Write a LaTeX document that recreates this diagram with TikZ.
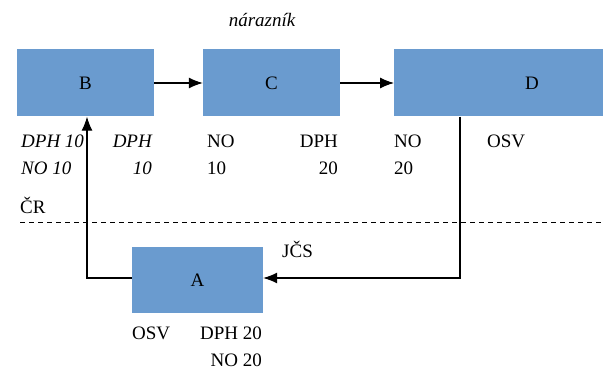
\documentclass[tikz,border=0pt]{standalone}
\usepackage{fontspec}
\setmainfont{Liberation Serif}
\usetikzlibrary{arrows.meta}
\definecolor{boxblue}{RGB}{106,155,207}
\begin{document}
\begin{tikzpicture}[x=1pt,y=-1pt,
  font=\fontsize{19}{22}\selectfont,
  blk/.style={fill=boxblue,draw=none,minimum height=67pt,inner sep=0pt},
  arr/.style={-{Latex[length=14pt,width=11pt]},line width=1.1pt},
  ln/.style={line width=1pt},
  lbl/.style={inner sep=0pt}]
\useasboundingbox (0,0) rectangle (603,369);
\clip (0,0) rectangle (603,369);
\node[blk,minimum width=137pt] (B) at (85.5,83) {B};
\node[blk,minimum width=137pt] (C) at (271.5,83) {C};
\node[blk,minimum width=226pt,anchor=west] (D) at (394,83) {};
\node[lbl] (Dl) at (532,83) {D};
\node[blk,minimum width=131pt,minimum height=66pt] (A) at (197.5,280) {A};
% title
\node[lbl,anchor=base,font=\fontsize{19}{22}\selectfont\itshape] (t) at (262,27) {nárazník};
% labels under B
\node[lbl,anchor=base west,font=\fontsize{19}{22}\selectfont\itshape] (b1) at (21,147) {DPH 10};
\node[lbl,anchor=base west,font=\fontsize{19}{22}\selectfont\itshape] (b2) at (21,175) {NO 10};
\node[lbl,anchor=base east,font=\fontsize{19}{22}\selectfont\itshape] (b3) at (152,147) {DPH};
\node[lbl,anchor=base east,font=\fontsize{19}{22}\selectfont\itshape] (b4) at (152,175) {10};
% labels under C
\node[lbl,anchor=base west] (c1) at (207,147) {NO};
\node[lbl,anchor=base west] (c2) at (207,175) {10};
\node[lbl,anchor=base east] (c3) at (338,147) {DPH};
\node[lbl,anchor=base east] (c4) at (338,175) {20};
% labels under D
\node[lbl,anchor=base west] (d1) at (394,147) {NO};
\node[lbl,anchor=base west] (d2) at (394,175) {20};
\node[lbl,anchor=base west] (d3) at (487,147) {OSV};
% region labels
\node[lbl,anchor=base west] (cr) at (20,213) {ČR};
\node[lbl,anchor=base west] (jcs) at (282,257) {JČS};
% labels under A
\node[lbl,anchor=base west] (a1) at (132,339) {OSV};
\node[lbl,anchor=base east] (a2) at (262,339) {DPH 20};
\node[lbl,anchor=base east] (a3) at (262,366) {NO 20};
% dashed border
\coordinate (dl) at (20,222);
\coordinate (dr) at (603,222);
\draw[ln,dash pattern=on 5pt off 4pt] (dl) -- (dr);
% connectors
\draw[arr] (B.east) -- (C.west);
\draw[arr] (C.east) -- (D.west);
\coordinate (dturn) at (460,278);
\coordinate (bturn) at (87,278);
\draw[arr] (D.south -| dturn) -- (dturn) -- (A.east |- dturn);
\draw[arr] (A.west |- bturn) -- (bturn) -- (B.south -| bturn);
\end{tikzpicture}
\end{document}
